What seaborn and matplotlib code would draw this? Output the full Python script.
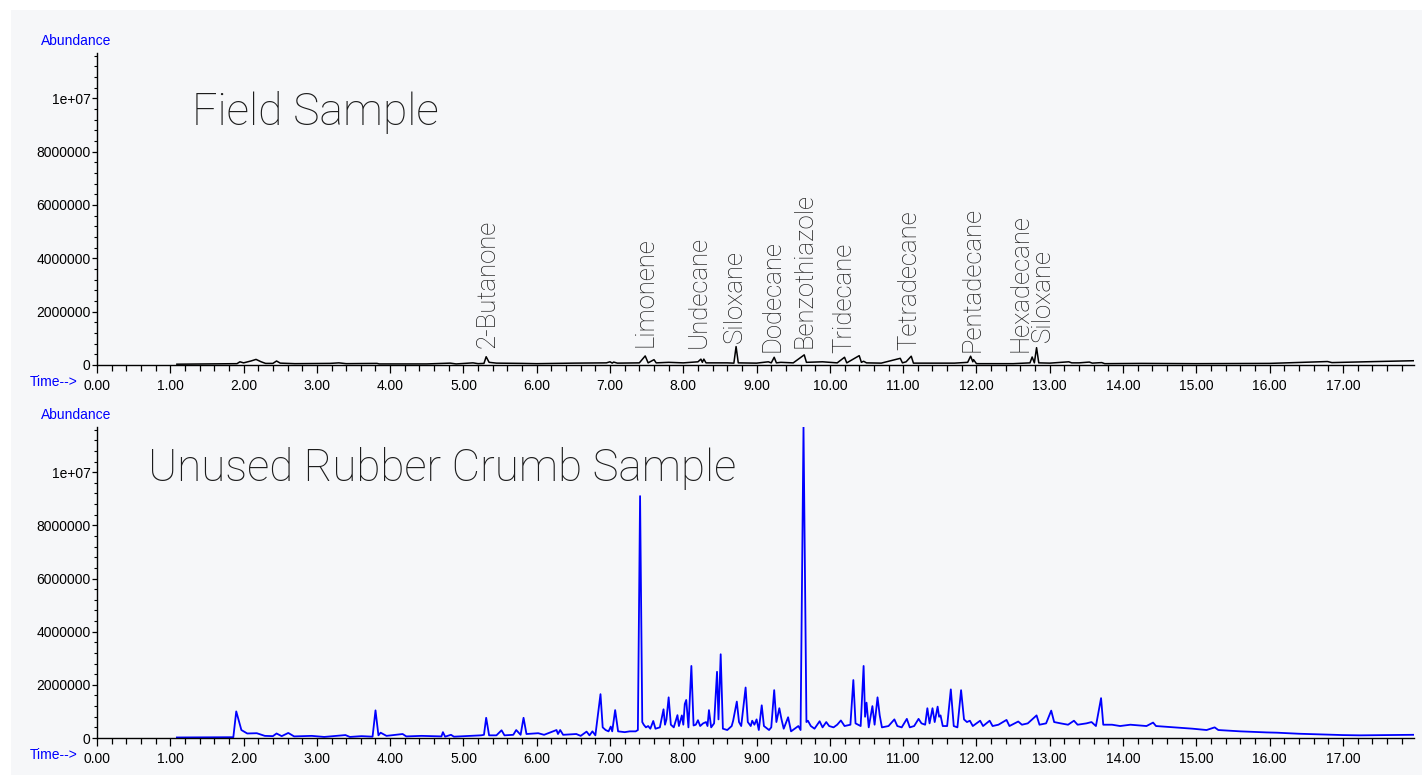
import numpy as np
import pandas as pd
import matplotlib
matplotlib.use('Agg')
import matplotlib.pyplot as plt
import seaborn as sns
from matplotlib.ticker import MultipleLocator, FixedLocator, FuncFormatter
from matplotlib.patches import Rectangle

# ---------------- data (time in min, abundance in millions) ----------------
field_time = [1.09, 1.50, 1.91, 1.95, 2.00, 2.10, 2.17, 2.24, 2.30, 2.40, 2.45, 2.50, 2.70, 3.18, 3.30, 3.40,
              3.82, 3.85, 4.50, 4.82, 4.90, 5.13, 5.20, 5.28, 5.31, 5.35, 5.45, 5.80, 6.00, 6.50, 6.95, 7.00,
              7.03, 7.05, 7.10, 7.40, 7.48, 7.52, 7.60, 7.63, 7.80, 8.00, 8.20, 8.24, 8.26, 8.28, 8.31, 8.60,
              8.69, 8.72, 8.75, 9.00, 9.16, 9.20, 9.24, 9.27, 9.33, 9.50, 9.65, 9.68, 9.90, 10.10, 10.20, 10.23,
              10.40, 10.43, 10.46, 10.50, 10.70, 10.96, 10.99, 11.04, 11.11, 11.14, 11.50, 11.70, 11.88, 11.92,
              11.95, 11.96, 12.00, 12.50, 12.73, 12.76, 12.79, 12.82, 12.85, 13.00, 13.26, 13.30, 13.40, 13.54,
              13.58, 13.71, 13.75, 14.25, 15.00, 16.00, 16.79, 16.85, 17.30, 17.96]
field_abund = [0.03, 0.04, 0.05, 0.12, 0.08, 0.15, 0.21, 0.12, 0.06, 0.06, 0.15, 0.07, 0.05, 0.06, 0.08, 0.05,
               0.06, 0.04, 0.04, 0.07, 0.04, 0.08, 0.05, 0.06, 0.31, 0.10, 0.07, 0.06, 0.05, 0.07, 0.08, 0.12,
               0.07, 0.11, 0.07, 0.08, 0.34, 0.08, 0.20, 0.08, 0.10, 0.08, 0.12, 0.22, 0.10, 0.22, 0.08, 0.08,
               0.07, 0.69, 0.08, 0.07, 0.12, 0.08, 0.29, 0.08, 0.10, 0.08, 0.38, 0.10, 0.12, 0.08, 0.29, 0.08,
               0.35, 0.10, 0.14, 0.08, 0.07, 0.25, 0.08, 0.12, 0.33, 0.07, 0.07, 0.07, 0.10, 0.33,
               0.12, 0.20, 0.05, 0.05, 0.08, 0.30, 0.08, 0.65, 0.08, 0.07, 0.12, 0.08, 0.08, 0.11,
               0.07, 0.09, 0.05, 0.06, 0.05, 0.06, 0.13, 0.09, 0.12, 0.16]

crumb_time = [1.09, 1.86, 1.90, 1.97, 2.05, 2.18, 2.29, 2.40, 2.45, 2.52, 2.61, 2.69, 2.93, 3.10, 3.39, 3.45,
              3.61, 3.76, 3.80, 3.84, 3.87, 3.95, 4.17, 4.22, 4.43, 4.70, 4.72, 4.75, 4.83, 4.87, 5.24, 5.28,
              5.31, 5.35, 5.45, 5.52, 5.56, 5.68, 5.72, 5.78, 5.82, 5.86, 6.02, 6.10, 6.27, 6.29, 6.32, 6.36,
              6.54, 6.60, 6.68, 6.72, 6.76, 6.80, 6.87, 6.90, 6.94, 6.98, 7.01, 7.03, 7.07, 7.11, 7.20, 7.27,
              7.35, 7.38, 7.41, 7.44, 7.46, 7.49, 7.52, 7.55, 7.59, 7.62, 7.68, 7.73, 7.75, 7.77, 7.80, 7.83,
              7.87, 7.92, 7.94, 7.98, 8.00, 8.02, 8.04, 8.07, 8.11, 8.14, 8.17, 8.20, 8.23, 8.27, 8.31, 8.33,
              8.35, 8.38, 8.42, 8.46, 8.48, 8.51, 8.54, 8.60, 8.66, 8.68, 8.73, 8.76, 8.79, 8.85, 8.88, 8.92,
              8.94, 8.97, 9.00, 9.03, 9.07, 9.10, 9.17, 9.20, 9.24, 9.27, 9.31, 9.34, 9.37, 9.43, 9.47, 9.52,
              9.57, 9.60, 9.64, 9.68, 9.70, 9.74, 9.79, 9.86, 9.90, 9.95, 9.99, 10.05, 10.10, 10.15, 10.20, 10.28,
              10.32, 10.35, 10.42, 10.46, 10.48, 10.50, 10.53, 10.58, 10.61, 10.65, 10.68, 10.71, 10.80, 10.88,
              10.92, 10.98, 11.05, 11.09, 11.15, 11.21, 11.25, 11.30, 11.33, 11.36, 11.40, 11.43, 11.47, 11.49,
              11.51, 11.54, 11.60, 11.65, 11.69, 11.74, 11.79, 11.83, 11.87, 11.91, 11.95, 12.05, 12.09, 12.18,
              12.22, 12.30, 12.41, 12.45, 12.57, 12.62, 12.70, 12.82, 12.86, 12.95, 13.02, 13.06, 13.15, 13.25,
              13.33, 13.38, 13.50, 13.57, 13.63, 13.70, 13.73, 13.85, 13.96, 14.10, 14.32, 14.41, 14.45, 14.70,
              14.95, 15.14, 15.25, 15.30, 15.60, 15.96, 16.10, 16.40, 16.64, 17.00, 17.23, 17.60, 17.96]
crumb_abund = [0.02, 0.03, 1.00, 0.30, 0.17, 0.18, 0.08, 0.07, 0.17, 0.07, 0.19, 0.06, 0.08, 0.04, 0.11, 0.04,
               0.07, 0.05, 1.04, 0.10, 0.20, 0.08, 0.15, 0.06, 0.08, 0.06, 0.22, 0.05, 0.12, 0.05, 0.10, 0.12,
               0.76, 0.10, 0.10, 0.29, 0.10, 0.12, 0.30, 0.12, 0.76, 0.15, 0.18, 0.12, 0.30, 0.15, 0.30, 0.12,
               0.15, 0.08, 0.24, 0.10, 0.25, 0.10, 1.65, 0.40, 0.30, 0.25, 0.43, 0.25, 1.05, 0.25, 0.22, 0.25,
               0.25, 0.30, 9.10, 0.60, 0.50, 0.40, 0.45, 0.35, 0.64, 0.35, 0.40, 1.08, 0.50, 0.70, 1.53, 0.50,
               0.40, 0.86, 0.45, 0.85, 0.50, 1.28, 1.43, 0.40, 2.71, 0.47, 0.50, 0.67, 0.45, 0.55, 0.60, 0.45,
               1.05, 0.40, 0.55, 2.49, 0.70, 3.15, 0.35, 0.30, 0.45, 0.65, 1.37, 0.60, 0.45, 1.90, 0.60, 0.45,
               0.65, 0.50, 0.70, 0.30, 1.23, 0.45, 0.30, 0.40, 1.80, 0.60, 1.12, 0.70, 0.35, 0.78, 0.25, 0.35,
               0.45, 0.30, 11.70, 0.60, 0.65, 0.45, 0.35, 0.63, 0.40, 0.60, 0.45, 0.40, 0.50, 0.66, 0.45, 0.50,
               2.18, 0.55, 0.45, 2.71, 0.80, 1.33, 0.40, 1.20, 0.50, 1.53, 0.85, 0.40, 0.45, 0.70,
               0.45, 0.40, 0.72, 0.40, 0.45, 0.72, 0.55, 0.50, 1.12, 0.55, 1.12, 0.60, 1.18, 0.80,
               0.85, 0.45, 0.45, 1.83, 0.45, 0.40, 1.80, 0.70, 0.60, 0.65, 0.45, 0.65, 0.45, 0.65,
               0.45, 0.50, 0.68, 0.45, 0.62, 0.50, 0.55, 0.85, 0.50, 0.55, 1.03, 0.60, 0.55, 0.50,
               0.65, 0.50, 0.55, 0.60, 0.45, 1.50, 0.50, 0.50, 0.45, 0.50, 0.45, 0.58, 0.45, 0.40,
               0.35, 0.30, 0.40, 0.30, 0.25, 0.21, 0.20, 0.16, 0.14, 0.11, 0.10, 0.11, 0.12]

compound_names = ['2-Butanone', 'Limonene', 'Undecane', 'Siloxane', 'Dodecane', 'Benzothiazole',
                  'Tridecane', 'Tetradecane', 'Pentadecane', 'Hexadecane', 'Siloxane']
compound_times = [5.33, 7.48, 8.21, 8.70, 9.22, 9.65, 10.20, 11.08, 11.94, 12.60, 12.90]
compound_label_base = [0.63, 0.69, 0.63, 0.84, 0.50, 0.63, 0.44, 0.56, 0.50, 0.50, 0.88]

x_ticks = list(range(0, 18))
y_ticks = [0, 2e6, 4e6, 6e6, 8e6, 1e7]

panel_titles = ['Field Sample', 'Unused Rubber Crumb Sample']

# ---------------- layout ----------------
W, H = 1422, 775
BG = '#f6f7f9'
fig = plt.figure(figsize=(W / 100, H / 100), dpi=100, facecolor='white')
fig.patches.append(Rectangle((11 / W, 0), 1 - 11 / W, 1 - 10 / H, transform=fig.transFigure,
                             facecolor=BG, edgecolor='none', zorder=-10))

def px_rect(left, top, right, bottom):
    return [left / W, 1 - bottom / H, (right - left) / W, (bottom - top) / H]

ax_top = fig.add_axes(px_rect(97, 53, 1414, 365))
ax_bot = fig.add_axes(px_rect(97, 427, 1414, 738))

field_df = pd.DataFrame({'time': field_time, 'abund': np.array(field_abund) * 1e6})
crumb_df = pd.DataFrame({'time': crumb_time, 'abund': np.array(crumb_abund) * 1e6})

sns.lineplot(data=field_df, x='time', y='abund', ax=ax_top, color='black', lw=1.1,
             estimator=None, sort=False)
sns.lineplot(data=crumb_df, x='time', y='abund', ax=ax_bot, color='#0000ff', lw=1.3,
             estimator=None, sort=False)

tick_font = 'Liberation Sans'
label_font = ['Roboto', 'Lato', 'DejaVu Sans']
TXT = '#1c1c1c'

def yfmt(v, pos):
    if v == 0:
        return '0'
    if v >= 1e7:
        return '1e+07'
    return f'{int(round(v))}'

for ax in (ax_top, ax_bot):
    ax.set_facecolor('none')
    ax.set_xlim(0, 17.97)
    ax.set_ylim(0, 1.17e7)
    ax.xaxis.set_major_locator(FixedLocator(x_ticks))
    ax.xaxis.set_minor_locator(MultipleLocator(0.2))
    ax.xaxis.set_major_formatter(FuncFormatter(lambda v, p: f'{v:.2f}'))
    ax.yaxis.set_major_locator(FixedLocator(y_ticks))
    ax.yaxis.set_minor_locator(MultipleLocator(4e5))
    ax.yaxis.set_major_formatter(FuncFormatter(yfmt))
    ax.set_xlabel('')
    ax.set_ylabel('')
    for s in ('top', 'right'):
        ax.spines[s].set_visible(False)
    for s in ('left', 'bottom'):
        ax.spines[s].set_linewidth(1.0)
        ax.spines[s].set_color('black')
    ax.tick_params(axis='x', which='major', direction='out', length=6, width=0.9, pad=4,
                   labelsize=10, colors='black')
    ax.tick_params(axis='x', which='minor', direction='out', length=4, width=0.9)
    ax.tick_params(axis='y', which='major', direction='out', length=3.5, width=0.9, pad=1,
                   labelsize=10, colors='black')
    ax.tick_params(axis='y', which='minor', direction='out', length=2, width=0.8)
    for lab in ax.get_xticklabels() + ax.get_yticklabels():
        lab.set_fontfamily(tick_font)
    ax.grid(False)

# axis captions
for top_px, bottom_px in ((53, 365), (427, 738)):
    fig.text(41 / W, 1 - (top_px - 12) / H, 'Abundance', color='#0000ff', fontsize=10,
             family=tick_font, ha='left', va='center')
    fig.text(78 / W, 1 - (bottom_px + 17) / H, 'Time-->', color='#0000ff', fontsize=10,
             family=tick_font, ha='right', va='center')

# titles
fig.text(192 / W, 1 - 125 / H, panel_titles[0], fontsize=32, family=label_font,
         fontweight='light', color=TXT, ha='left', va='baseline')
fig.text(148 / W, 1 - 481 / H, panel_titles[1], fontsize=31.6, family=label_font,
         fontweight='light', color=TXT, ha='left', va='baseline')

# compound labels
for name, t, b in zip(compound_names, compound_times, compound_label_base):
    ax_top.text(t, b * 1e6, name, rotation=90, ha='center', va='bottom', fontsize=18.5,
                family=label_font, fontweight='light', color=TXT)

fig.savefig('out.png', dpi=100, facecolor='white')
